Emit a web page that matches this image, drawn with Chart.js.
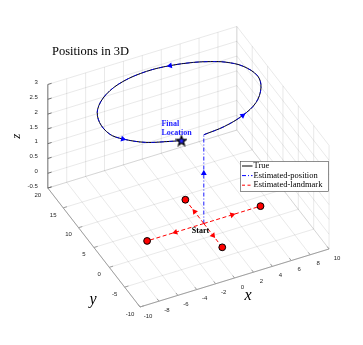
<!DOCTYPE html>
<html><head><meta charset="utf-8">
<script src="https://cdn.jsdelivr.net/npm/chart.js@4/dist/chart.umd.min.js"></script>
<style>html,body{margin:0;padding:0;background:#fff;}#wrap{width:363px;height:345px;position:relative;}</style>
</head><body><div id="wrap"><canvas id="c"></canvas></div>
<script>
// ---------------- data ----------------
const xTicks = [-10,-8,-6,-4,-2,0,2,4,6,8,10];
const yTicks = [-10,-5,0,5,10,15,20];
const zTicks = [-0.5,0,0.5,1,1.5,2,2.5,3];
const xLim = [-10,10], yLim = [-10,20], zLim = [-0.5,3];

const trueX = [0,2.3,4.6,6.6,8.0,8.5,7.9,6.7,5.4,3.9,1.7,-0.7,-3.4,-5.7,-7.4,-8.1,-8.0,-7.2,-5.5,-3.4,-2.3];
const trueY = [0,0.4,1.5,3.3,6.0,8.6,11.5,13.4,14.5,15.4,16.2,16.5,15.9,14.3,11.8,9.0,6.0,4.2,2.1,0.8,0.2];
const trueZ = [3,3,3,3,3,3,3,3,3,3,3,3,3,3,3,3,3,3,3,3,3];
const climbX = [0,0,0], climbY = [0,0,0], climbZ = [0,1.7,3];
const estX = [0,2.3,4.6,6.6,8.0,8.5,7.9,6.7,5.4,3.9,1.7,-0.7,-3.4,-5.7,-7.4,-8.1,-8.0,-7.2,-5.5,-3.4,-2.3];
const estY = [0,0.4,1.5,3.3,6.0,8.6,11.5,13.4,14.5,15.4,16.2,16.5,15.9,14.3,11.8,9.0,6.0,4.2,2.1,0.8,0.2];
const estZ = [3,3,3,3,3,3,3,3,3,3,3,3,3,3,3,3,3,3,3,3,3];
const estArrowIdx = [2,10,17];
const lmX = [0,6,0,-6], lmY = [6,0,-6,0], lmZ = [0,0,0,0];
const startPos = [0,0,0];
const finalPos = [-2.3,0.2,3];

const view = {az:-26, el:39, aspect:[1,1,0.634]};
function P(x,y,z){
  const X = ((x-xLim[0])/(xLim[1]-xLim[0])-0.5)*view.aspect[0];
  const Y = ((y-yLim[0])/(yLim[1]-yLim[0])-0.5)*view.aspect[1];
  const Z = ((z-zLim[0])/(zLim[1]-zLim[0])-0.5)*view.aspect[2];
  const a = view.az*Math.PI/180, e = view.el*Math.PI/180;
  return {x: X*Math.cos(a)+Y*Math.sin(a),
          y: -X*Math.sin(a)*Math.sin(e)+Y*Math.cos(a)*Math.sin(e)+Z*Math.cos(e)};
}
const pts = (xs,ys,zs)=>xs.map((x,i)=>P(x,ys[i],zs[i]));
function rotOf(a,b){ return Math.atan2(b.x-a.x, b.y-a.y)*180/Math.PI; }

const truePts = pts(trueX,trueY,trueZ);
const estPts = pts(estX,estY,estZ);
const climbPts = pts(climbX,climbY,climbZ);
const startP = P(...startPos);
const lmPts = pts(lmX,lmY,lmZ);

const blueArrows = [climbPts[1], ...estArrowIdx.map(i=>estPts[i])];
const blueRot = [rotOf(climbPts[0],climbPts[2]), ...estArrowIdx.map(i=>rotOf(estPts[i-1],estPts[i+1]))];
const redArrows = lmPts.map(p=>({x:(p.x+startP.x)/2, y:(p.y+startP.y)/2}));
const redRot = lmPts.map(p=>rotOf(startP,p));

const star = document.createElement('canvas');
star.width = 12; star.height = 12;
(function(){const c=star.getContext('2d');c.beginPath();
 for(let k=0;k<10;k++){const r=k%2?2.1:5;const a=-Math.PI/2+k*Math.PI/5;
  const px=6+r*Math.cos(a), py=6.4+r*Math.sin(a); k?c.lineTo(px,py):c.moveTo(px,py);}
 c.closePath();c.fillStyle='#2a2aff';c.fill();c.lineWidth=1.3;c.strokeStyle='#000';c.stroke();})();

const BLUE='#0000ff', RED='#ff0000';
const datasets = [
  {data:[P(...finalPos)], pointStyle:star, pointRadius:6, showLine:false, order:0},
  {data:blueArrows, pointStyle:'triangle', pointRotation:blueRot, pointRadius:3.4, backgroundColor:BLUE, borderWidth:0, showLine:false, order:1},
  {data:redArrows, pointStyle:'triangle', pointRotation:redRot, pointRadius:3.4, backgroundColor:RED, borderWidth:0, showLine:false, order:2},
  {data:lmPts, pointStyle:'circle', pointRadius:3.4, backgroundColor:RED, borderColor:'#000', borderWidth:1, showLine:false, order:3},
  ...lmPts.map((p,i)=>({data:[startP,p], showLine:true, borderColor:RED, borderWidth:1, borderDash:[4,2.5], pointRadius:0, order:4+i})),
  {data:climbPts, showLine:true, borderColor:BLUE, borderWidth:0.9, borderDash:[4,2,1,2], pointRadius:0, order:10},
  {data:estPts, showLine:true, borderColor:BLUE, borderWidth:0.8, borderDash:[4,2,1,2], pointRadius:0, tension:0.35, order:11},
  {data:truePts, showLine:true, borderColor:'#000', borderWidth:1.0, pointRadius:0, tension:0.35, order:12}
];

const deco = {
  id:'deco',
  beforeDatasetsDraw(chart){
    const ctx = chart.ctx, sx = chart.scales.x, sy = chart.scales.y;
    const px = (x,y,z)=>{const p=P(x,y,z);return [sx.getPixelForValue(p.x), sy.getPixelForValue(p.y)];};
    const seg = (a,b)=>{const p=px(...a),q=px(...b);ctx.moveTo(p[0],p[1]);ctx.lineTo(q[0],q[1]);};
    const [x0,x1]=xLim,[y0,y1]=yLim,[z0,z1]=zLim;
    ctx.save();
    ctx.fillStyle='#fff';ctx.fillRect(0,0,chart.width,chart.height);
    ctx.beginPath();
    xTicks.forEach(x=>seg([x,y0,z0],[x,y1,z0]));
    yTicks.forEach(y=>seg([x0,y,z0],[x1,y,z0]));
    xTicks.forEach(x=>seg([x,y1,z0],[x,y1,z1]));
    zTicks.forEach(z=>seg([x0,y1,z],[x1,y1,z]));
    yTicks.forEach(y=>seg([x1,y,z0],[x1,y,z1]));
    zTicks.forEach(z=>seg([x1,y0,z],[x1,y1,z]));
    ctx.strokeStyle='rgba(38,38,38,0.1)';ctx.lineWidth=1;ctx.stroke();
    ctx.beginPath();seg([x0,y0,z0],[x1,y0,z0]);seg([x0,y0,z0],[x0,y1,z0]);
    xTicks.forEach(x=>seg([x,y0,z0],[x,y0+0.6,z0]));
    yTicks.forEach(y=>seg([x0,y,z0],[x0+0.4,y,z0]));
    ctx.strokeStyle='#a0a0a0';ctx.lineWidth=1;ctx.stroke();
    ctx.beginPath();seg([x0,y1,z0],[x0,y1,z1]);
    zTicks.forEach(z=>seg([x0,y1,z],[x0+0.4,y1,z]));
    ctx.strokeStyle='#555';ctx.lineWidth=0.8;ctx.stroke();
    ctx.fillStyle='#262626';ctx.font='6px "Liberation Sans"';ctx.textBaseline='middle';
    ctx.textAlign='center';
    xTicks.forEach(x=>{const p=px(x,y0,z0);ctx.fillText(String(x),p[0]+8,p[1]+9);});
    yTicks.forEach(y=>{const p=px(x0,y,z0);ctx.fillText(String(y),p[0]-10,p[1]+7);});
    ctx.textAlign='right';
    zTicks.forEach(z=>{const p=px(x0,y1,z);ctx.fillText(String(z),p[0]-10,p[1]-2);});
    ctx.fillStyle='#000';ctx.font='italic 16px "Liberation Serif"';ctx.textAlign='center';
    let p=px(0,y0,z0);ctx.fillText('x',p[0]+13.5,p[1]+18);
    p=px(x0,5,z0);ctx.fillText('y',p[0]-1,p[1]+52);
    p=px(x0,y1,1.25);ctx.save();ctx.translate(p[0]-31,p[1]);ctx.rotate(-Math.PI/2);
    ctx.font='italic 13px "Liberation Serif"';ctx.fillText('z',0,0);ctx.restore();
    ctx.font='12.5px "Liberation Serif"';ctx.textAlign='left';ctx.fillStyle='#000';
    ctx.fillText('Positions in 3D',52,52);
    ctx.restore();
  },
  afterDatasetsDraw(chart){
    const ctx = chart.ctx, sx = chart.scales.x, sy = chart.scales.y;
    const px = (x,y,z)=>{const p=P(x,y,z);return [sx.getPixelForValue(p.x), sy.getPixelForValue(p.y)];};
    ctx.save();
    ctx.textBaseline='middle';ctx.textAlign='left';
    let p=px(...finalPos);
    ctx.font='bold 8px "Liberation Serif"';ctx.fillStyle='#1a1aff';
    ctx.fillText('Final',p[0]-20,p[1]-17);ctx.fillText('Location',p[0]-20,p[1]-8);
    p=px(...startPos);ctx.fillStyle='#000';
    ctx.fillText('Start',p[0]-12,p[1]+7);
    const L=240.5,T=161.5,W=88,H=30;
    ctx.fillStyle='#fff';ctx.fillRect(L,T,W,H);
    ctx.strokeStyle='#444';ctx.lineWidth=0.6;ctx.strokeRect(L,T,W,H);
    const items=[['True','#000',[]],['Estimated-position',BLUE,[4,2,1,2]],['Estimated-landmark',RED,[3,2.5]]];
    ctx.font='8.5px "Liberation Serif"';
    items.forEach((it,i)=>{const y=T+4.5+i*9.6;
      ctx.beginPath();ctx.setLineDash(it[2]);ctx.strokeStyle=it[1];ctx.lineWidth=1;
      ctx.moveTo(L+1.5,y);ctx.lineTo(L+12,y);ctx.stroke();ctx.setLineDash([]);
      ctx.fillStyle='#000';ctx.fillText(it[0],L+13,y);});
    ctx.restore();
  }
};

new Chart(document.getElementById('c'),{
  type:'scatter',
  data:{datasets},
  options:{
    responsive:true, maintainAspectRatio:false, animation:false,
    layout:{padding:0, autoPadding:false},
    plugins:{legend:{display:false}, tooltip:{enabled:false}, title:{display:false}},
    events:[],
    scales:{
      x:{type:'linear', display:false, min:-0.896, max:0.830},
      y:{type:'linear', display:false, min:-0.848, max:0.793}
    }
  },
  plugins:[deco]
});
</script></body></html>
